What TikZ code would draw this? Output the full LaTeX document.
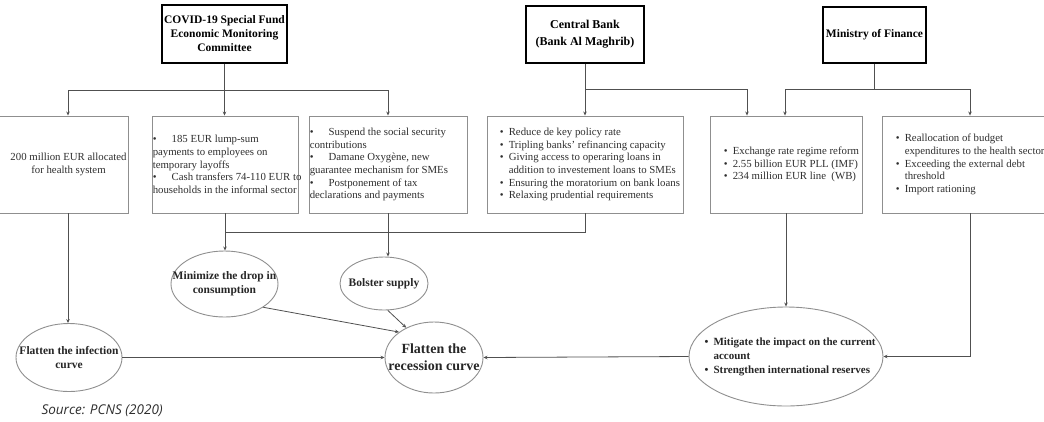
\documentclass[tikz,border=0pt]{standalone}
\usepackage{fontspec}
\setmainfont{Liberation Serif}
\newfontfamily\srcfont{Open Sans}
\usetikzlibrary{shapes.geometric,arrows.meta}
\definecolor{boxgray}{HTML}{8F8F8F}
\definecolor{linegray}{HTML}{505050}
\definecolor{txtgray}{HTML}{2E2E2E}
\newcommand{\itm}{\makebox[9pt][l]{\textbullet}}
\newcommand{\cnt}{\hspace*{9pt}}
\newcommand{\wbul}{\textbullet\hspace{1.4em}}
\tikzset{
  hdr/.style={draw=black, line width=1.3pt, align=center, font=\fontsize{11.5}{14}\selectfont\bfseries, inner sep=1pt},
  actbox/.style={draw=boxgray, line width=0.9pt, minimum height=97pt, inner sep=0pt},
  acttxt/.style={align=left, font=\fontsize{10.8}{12.7}\selectfont, text=txtgray, inner sep=0pt, anchor=west},
  goal/.style={ellipse, draw=boxgray, line width=0.9pt, inner sep=0pt},
  goaltxt/.style={align=center, font=\fontsize{11.5}{14}\selectfont\bfseries, text=black!85, inner sep=0pt},
  link/.style={draw=linegray, line width=0.8pt},
}
\begin{document}
\begin{tikzpicture}[x=1pt,y=-1pt,>={Stealth[length=4pt,width=3.5pt]}]
\useasboundingbox (0,0) rectangle (1044,421);
% headers
\node[hdr, minimum width=125pt, minimum height=58pt] (cov) at (224.5,34) {COVID-19 Special Fund\\Economic Monitoring\\Committee};
\node[hdr, minimum width=118pt, minimum height=57pt, font=\fontsize{12}{17}\selectfont\bfseries] (cbank) at (585,34.5) {Central Bank\\(Bank Al Maghrib)};
\node[hdr, minimum width=103pt, minimum height=56pt] (minfin) at (874.5,35) {Ministry of Finance};
% measures
\node[actbox, minimum width=136pt] (hlth) at (60,164.5) {};
\node[acttxt, align=center, anchor=center] (thlth) at ([xshift=8.5pt]hlth.center) {200 million EUR allocated\\for health system};
\node[actbox, minimum width=146pt] (cash) at (225,164.5) {};
\node[acttxt] (tcash) at ([xshift=1pt]cash.west) {\wbul 185 EUR lump-sum\\payments to employees on\\temporary layoffs\\\wbul Cash transfers 74-110 EUR to\\households in the informal sector};
\node[actbox, minimum width=158pt] (supp) at (388,164.5) {};
\node[acttxt] (tsupp) at ([xshift=1pt]supp.west) {\wbul Suspend the social security\\contributions\\\wbul Damane Oxygène, new\\guarantee mechanism for SMEs\\\wbul Postponement of tax\\declarations and payments};
\node[actbox, minimum width=196pt] (bkm) at (585,164.5) {};
\node[acttxt] (tbkm) at ([xshift=13pt]bkm.west) {\itm Reduce de key policy rate\\\itm Tripling banks' refinancing capacity\\\itm Giving access to operaring loans in\\\cnt addition to investement loans to SMEs\\\itm Ensuring the moratorium on bank loans\\\itm Relaxing prudential requirements};
\node[actbox, minimum width=152pt] (fx) at (786,164.5) {};
\node[acttxt] (tfx) at ([xshift=14pt]fx.west) {\itm Exchange rate regime reform\\\itm 2.55 billion EUR PLL (IMF)\\\itm 234 million EUR line\ \ (WB)};
\node[actbox, minimum width=176pt] (bud) at (970,164.5) {};
\node[acttxt] (tbud) at ([xshift=14pt]bud.west) {\itm Reallocation of budget\\\cnt expenditures to the health sector\\\itm Exceeding the external debt\\\cnt threshold\\\itm Import rationing};
% goals
\node[goal, minimum width=106pt, minimum height=68pt] (infc) at (69,357.5) {};
\node[goaltxt] (tinfc) at (infc) {Flatten the infection\\curve};
\node[goal, minimum width=107pt, minimum height=66pt] (mind) at (224.5,284) {};
\node[goaltxt] (tmind) at (mind) {Minimize the drop in\\consumption};
\node[goal, minimum width=88pt, minimum height=53pt] (bols) at (384,283.5) {};
\node[goaltxt] (tbols) at (bols) {Bolster supply};
\node[goal, minimum width=98pt, minimum height=71pt] (recs) at (434,357.5) {};
\node[goaltxt, font=\fontsize{14}{16.7}\selectfont\bfseries] (trecs) at (recs) {Flatten the\\recession curve};
\node[goal, minimum width=194pt, minimum height=99pt] (mitg) at (786,356.5) {};
\node[goaltxt, align=left, font=\fontsize{11}{14.2}\selectfont\bfseries] (tmitg) at (790,357) {\itm Mitigate the impact on the current\\\cnt account\\\itm Strengthen international reserves};
% top links
\coordinate (jcov) at (224.5,90);
\draw[link] (cov.south) -- (jcov);
\draw[link,->] (jcov) -| ([xshift=8pt]hlth.north);
\draw[link,->] (jcov) -- (jcov |- cash.north);
\draw[link,->] (jcov) -| (supp.north);
\coordinate (jcb) at (585,89);
\draw[link,->] (cbank.south) -- (bkm.north);
\draw[link,->] (jcb) -| ([xshift=-39pt]fx.north);
\coordinate (jmf) at (874.5,89);
\draw[link] (minfin.south) -- (jmf);
\draw[link,->] (jmf) -| ([xshift=-1pt]fx.north);
\draw[link,->] (jmf) -| (bud.north);
% bottom links
\coordinate (jdem) at (224.5,232);
\draw[link] (bkm.south) |- (jdem);
\draw[link,->] ([xshift=8pt]hlth.south) -- ([xshift=8pt]hlth.south |- infc.north);
\draw[link,->] (cash.south) -- (cash.south |- mind.north);
\draw[link,->] (supp.south) -- (supp.south |- bols.north);
\draw[link,->] (infc.east) -- (recs.west);
\draw[link,->] (mind.-31) -- (recs.144);
\draw[link,->] (bols.-82) -- (recs.133);
\draw[link,->] (fx.south) -- (mitg.north);
\draw[link,->] (bud.south) |- (mitg.east);
\draw[link,->] (mitg.west) -- (recs.east);
% source
\node[font={\fontsize{13.5}{15}\srcfont\itshape}, text=txtgray, anchor=west] (src) at (38,411) {Source: PCNS (2020)};
\end{tikzpicture}
\end{document}
